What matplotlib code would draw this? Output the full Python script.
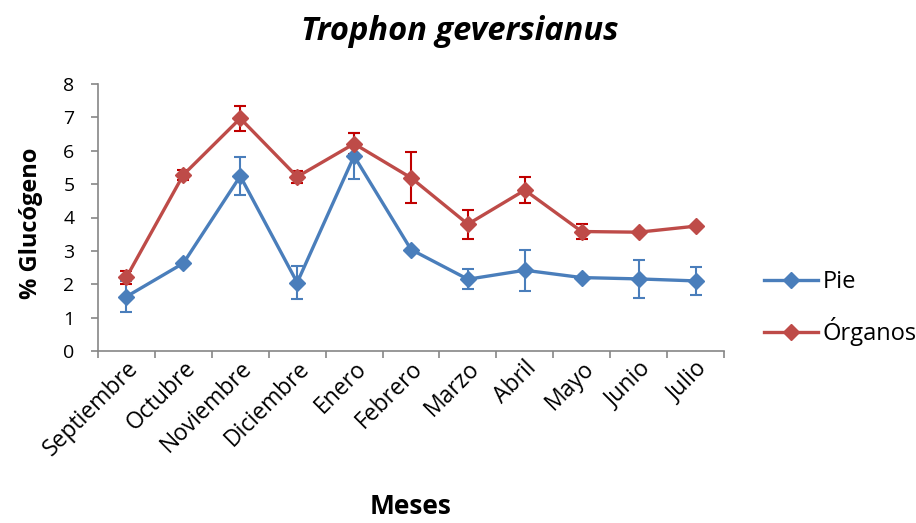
import matplotlib
matplotlib.use("Agg")
import matplotlib.pyplot as plt
import numpy as np

plt.rcParams['font.family'] = ['Open Sans', 'DejaVu Sans']

meses = ["Septiembre", "Octubre", "Noviembre", "Diciembre", "Enero", "Febrero",
         "Marzo", "Abril", "Mayo", "Junio", "Julio"]
pie = [1.63, 2.63, 5.24, 2.05, 5.84, 3.04, 2.15, 2.42, 2.20, 2.16, 2.10]
pie_err = [0.47, 0.0, 0.58, 0.49, 0.70, 0.0, 0.30, 0.61, 0.0, 0.56, 0.43]
organos = [2.21, 5.28, 6.97, 5.22, 6.21, 5.19, 3.80, 4.82, 3.58, 3.56, 3.74]
organos_err = [0.20, 0.15, 0.38, 0.18, 0.31, 0.76, 0.43, 0.39, 0.22, 0.0, 0.0]

blue = "#4A7EBB"
red = "#BE4B48"
red_err = "#C00000"
axis_grey = "#868686"

fig = plt.figure(figsize=(9.16, 5.23), dpi=100)
ax = fig.add_axes([98/916, 1-351/523, (724-98)/916, (351-84)/523])

x = np.arange(len(meses))

ax.errorbar(x, pie, yerr=pie_err, fmt='none', ecolor=blue, elinewidth=1.5,
            capsize=4, capthick=1.5, zorder=2)
ax.errorbar(x, organos, yerr=organos_err, fmt='none', ecolor=red_err, elinewidth=1.5,
            capsize=4, capthick=1.5, zorder=2)
l1, = ax.plot(x, pie, color=blue, lw=2.4, marker='D', markersize=8,
              markerfacecolor=blue, markeredgecolor=blue, label="Pie", zorder=3)
l2, = ax.plot(x, organos, color=red, lw=2.4, marker='D', markersize=8,
              markerfacecolor=red, markeredgecolor=red, label="Órganos", zorder=3)

ax.set_xlim(-0.5, len(meses) - 0.5)
ax.set_ylim(0, 8)
ax.set_yticks(range(0, 9))
ax.set_yticklabels([str(v) for v in range(0, 9)], fontsize=14)

# category labels centred on each month, ticks on the category boundaries
ax.set_xticks(x)
ax.set_xticklabels(meses, rotation=45, ha='right', rotation_mode='anchor', fontsize=16.5)
ax.tick_params(axis='x', which='major', length=0, pad=4)
ax.set_xticks(np.arange(-0.5, len(meses) + 0.5, 1), minor=True)
ax.tick_params(axis='x', which='minor', length=5, color=axis_grey, width=1.2)
ax.tick_params(axis='y', length=5, color=axis_grey, width=1.2, pad=12)

for s in ['top', 'right']:
    ax.spines[s].set_visible(False)
for s in ['left', 'bottom']:
    ax.spines[s].set_color(axis_grey)
    ax.spines[s].set_linewidth(1.2)

fig.text(460/916, 1-31/523, "Trophon geversianus", ha='center', va='center',
         fontsize=23.5, fontweight='bold', fontstyle='italic')
fig.text(31/916, 1-223/523, "% Glucógeno", ha='center', va='center', rotation=90,
         fontsize=17, fontweight='bold')
fig.text(411/916, 1-507/523, "Meses", ha='center', va='center',
         fontsize=19, fontweight='bold')

fig.legend(handles=[l1, l2], loc='center left', bbox_to_anchor=(764/916, 1-308/523),
           frameon=False, fontsize=17, handlelength=2.3, labelspacing=0.97,
           handletextpad=0.17, borderpad=0, borderaxespad=0)

fig.savefig("out.png", dpi=100)
